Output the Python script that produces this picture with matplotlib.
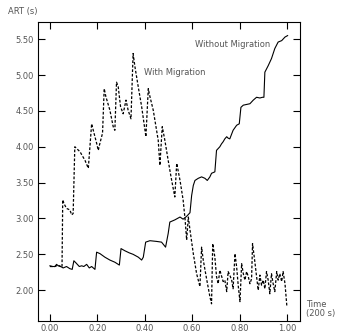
import numpy as np
import matplotlib
matplotlib.use("Agg")
import matplotlib.pyplot as plt

# --- datos ---
# Without Migration (linea continua)
t_sin = [0.000, 0.011, 0.021, 0.028, 0.035, 0.045, 0.056, 0.070, 0.084, 0.094,
         0.101, 0.110, 0.124, 0.134, 0.143, 0.155, 0.166, 0.176, 0.190, 0.197,
         0.211, 0.232, 0.253, 0.274, 0.293, 0.300, 0.316, 0.335, 0.351, 0.373,
         0.387, 0.394, 0.404, 0.422, 0.450, 0.471, 0.488, 0.499, 0.506, 0.527,
         0.549, 0.562, 0.577, 0.591, 0.598, 0.605, 0.612, 0.626, 0.640, 0.654,
         0.664, 0.675, 0.682, 0.696, 0.703, 0.717, 0.724, 0.731, 0.738, 0.746,
         0.752, 0.759, 0.773, 0.788, 0.799, 0.806, 0.816, 0.830, 0.844, 0.858,
         0.872, 0.886, 0.897, 0.903, 0.907, 0.921, 0.935, 0.949, 0.963, 0.978,
         0.992, 1.003]
art_sin = [2.34, 2.33, 2.33, 2.36, 2.34, 2.33, 2.31, 2.33, 2.30, 2.29,
           2.41, 2.38, 2.33, 2.34, 2.33, 2.36, 2.31, 2.33, 2.29, 2.53,
           2.51, 2.46, 2.42, 2.39, 2.35, 2.58, 2.55, 2.52, 2.50, 2.46,
           2.42, 2.46, 2.67, 2.69, 2.68, 2.67, 2.60, 2.79, 2.95, 2.98,
           3.02, 2.99, 3.03, 3.08, 3.32, 3.46, 3.53, 3.56, 3.58, 3.56,
           3.53, 3.58, 3.63, 3.65, 3.95, 4.00, 4.04, 4.07, 4.11, 4.14,
           4.12, 4.11, 4.23, 4.30, 4.32, 4.55, 4.58, 4.59, 4.60, 4.65,
           4.69, 4.68, 4.69, 4.69, 5.04, 5.13, 5.23, 5.37, 5.46, 5.48,
           5.53, 5.55]

# With Migration (linea punteada)
t_con = [0.000, 0.021, 0.034, 0.051, 0.054, 0.059, 0.070, 0.084, 0.092, 0.098,
         0.105, 0.127, 0.148, 0.162, 0.176, 0.186, 0.197, 0.204, 0.211, 0.222,
         0.229, 0.236, 0.253, 0.267, 0.274, 0.281, 0.288, 0.298, 0.309, 0.321,
         0.330, 0.342, 0.351, 0.359, 0.373, 0.387, 0.405, 0.415, 0.422, 0.436,
         0.457, 0.464, 0.474, 0.485, 0.499, 0.511, 0.527, 0.535, 0.549, 0.562,
         0.570, 0.577, 0.584, 0.591, 0.605, 0.619, 0.633, 0.640, 0.647, 0.661,
         0.675, 0.682, 0.687, 0.696, 0.703, 0.710, 0.717, 0.724, 0.731, 0.738,
         0.746, 0.752, 0.759, 0.767, 0.773, 0.781, 0.788, 0.795, 0.802, 0.809,
         0.816, 0.823, 0.830, 0.837, 0.844, 0.851, 0.855, 0.865, 0.872, 0.879,
         0.886, 0.893, 0.900, 0.907, 0.914, 0.921, 0.928, 0.935, 0.942, 0.949,
         0.957, 0.963, 0.970, 0.978, 0.984, 0.992, 1.000]
art_con = [2.33, 2.33, 2.35, 2.32, 3.26, 3.21, 3.14, 3.12, 3.05, 3.07,
           4.00, 3.93, 3.81, 3.70, 4.32, 4.19, 4.05, 3.95, 4.05, 4.19,
           4.81, 4.70, 4.51, 4.28, 4.23, 4.90, 4.84, 4.56, 4.46, 4.65,
           4.51, 4.39, 5.30, 5.11, 4.83, 4.56, 4.14, 4.81, 4.70, 4.51,
           4.09, 3.74, 4.28, 4.09, 3.81, 3.58, 3.30, 3.77, 3.53, 3.26,
           3.00, 2.70, 3.02, 2.84, 2.51, 2.23, 2.05, 2.60, 2.42, 2.16,
           1.91, 1.81, 2.65, 2.46, 2.19, 2.09, 2.28, 2.20, 2.12, 2.14,
           1.98, 2.26, 2.21, 2.14, 2.02, 2.51, 2.32, 2.05, 1.84, 2.37,
           2.23, 2.14, 2.26, 2.19, 2.09, 2.16, 2.65, 2.39, 2.19, 2.00,
           2.21, 2.07, 2.14, 2.02, 2.26, 2.14, 1.95, 2.23, 2.09, 1.98,
           2.26, 2.14, 2.23, 2.12, 2.26, 2.09, 1.77]

xticks = [0.0, 0.2, 0.4, 0.6, 0.8, 1.0]
xlabels = ["0.00", "0.20", "0.40", "0.60", "0.80", "1.00"]
yticks = [2.0, 2.5, 3.0, 3.5, 4.0, 4.5, 5.0, 5.5]
ylabels = ["2.00", "2.50", "3.00", "3.50", "4.00", "4.50", "5.00", "5.50"]

gris = "#555555"
plt.rcParams["font.family"] = "DejaVu Sans"
plt.rcParams["font.size"] = 6

fig = plt.figure(figsize=(3.37, 3.33), dpi=100)
ax = fig.add_axes([0.113, 0.036, 0.777, 0.898])

ax.plot(t_sin, art_sin, color="black", lw=0.8)
ax.plot(t_con, art_con, color="black", lw=0.9, linestyle=(0, (2.2, 1.4)))

ax.set_xlim(-0.05, 1.055)
ax.set_ylim(1.57, 5.74)

ax.set_xticks(xticks)
ax.set_xticklabels(xlabels)
ax.set_yticks(yticks)
ax.set_yticklabels(ylabels)
ax.tick_params(direction="in", length=5, width=0.8, colors="black",
               labelcolor=gris, labelsize=6, top=True, right=True, pad=3)
ax.tick_params(axis="x", pad=2)
for s in ax.spines.values():
    s.set_linewidth(0.8)

ax.text(0.612, 5.42, "Without Migration", ha="left", va="center", color=gris, fontsize=6)
ax.text(0.398, 5.04, "With Migration", ha="left", va="center", color=gris, fontsize=6)

fig.text(0.024, 0.964, "ART (s)", ha="left", va="center", color=gris, fontsize=6)
fig.text(0.908, 0.072, "Time\n(200 s)", ha="left", va="center", color=gris,
         fontsize=6, linespacing=1.1)

fig.savefig("out.png", dpi=100)
